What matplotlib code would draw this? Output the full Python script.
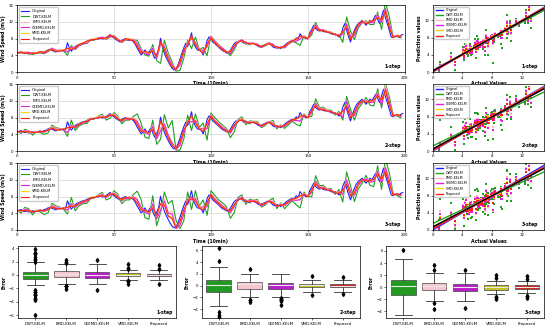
# Wind speed: forecasts, scatter plots and error box plots for 1, 2 and 3 steps ahead
import numpy as np
import matplotlib
matplotlib.use('Agg')
import matplotlib.pyplot as plt

# Measured wind speed (m/s), one value every 10 min
tempo = list(range(200))
original = [4.5, 4.7, 4.9, 4.6, 4.4, 4.5, 4.3, 4.4, 4.6, 4.5,
            4.5, 4.7, 4.8, 4.6, 4.9, 5.0, 5.3, 5.5, 5.2, 5.0,
            4.8, 5.1, 5.0, 5.2, 5.3, 5.1, 7.0, 5.8, 5.0, 5.6,
            6.1, 6.4, 6.6, 6.8, 7.0, 7.1, 7.3, 7.6, 7.8, 7.7,
            7.8, 8.0, 7.9, 8.1, 7.9, 8.0, 8.3, 8.6, 9.0, 8.5,
            8.2, 7.8, 7.5, 7.2, 7.6, 7.8, 8.0, 7.7, 7.9, 7.6,
            7.3, 6.6, 5.7, 4.9, 4.1, 4.6, 5.3, 4.2, 4.8, 5.5,
            4.4, 3.3, 4.2, 5.3, 8.1, 6.0, 4.5, 3.4, 2.5, 1.6,
            0.9, 0.5, 0.8, 1.7, 3.0, 4.5, 5.8, 6.9, 6.1, 7.8,
            9.4, 6.9, 6.0, 5.3, 5.2, 5.0, 4.1, 5.6, 7.5, 8.4,
            8.0, 7.2, 6.8, 6.4, 6.0, 5.5, 5.1, 4.9, 4.6, 4.5,
            5.2, 6.0, 6.8, 7.2, 7.0, 7.6, 7.3, 6.9, 7.2, 6.8,
            6.5, 6.9, 6.8, 6.6, 6.3, 6.0, 6.2, 6.4, 6.6, 6.9,
            6.8, 6.5, 6.0, 5.8, 6.1, 5.9, 5.6, 6.0, 6.4, 6.8,
            7.1, 7.4, 7.6, 7.5, 8.2, 7.8, 9.2, 8.5, 8.3, 8.0,
            8.0, 9.5, 10.2, 11.2, 10.4, 10.0, 9.8, 10.0, 9.7, 9.6,
            9.6, 9.4, 9.2, 9.0, 9.2, 8.8, 8.4, 8.6, 10.5, 11.6,
            10.0, 8.5, 7.2, 8.8, 10.0, 11.0, 11.6, 12.0, 12.4, 11.8,
            11.2, 11.8, 12.4, 12.0, 12.8, 13.6, 12.6, 11.6, 13.2, 14.8,
            13.0, 11.6, 10.0, 8.4, 8.2, 8.6, 8.8, 8.4, 8.8, 9.0]

# Forecast errors (prediction - measured) read for every second time step
# 1-step
erro_dwt_1 = [0.1, -0.3, 0.3, 0.2, -0.4, 0.0, -0.2, -0.5, -0.4, 0.3,
              0.2, 0.1, -0.2, -3.0, 1.4, -0.7, -0.3, -0.3, -0.4, -0.2,
              -0.1, 0.2, 0.3, -0.4, -0.6, 0.3, 0.3, -0.5, -0.3, -0.3,
              0.4, 1.9, 1.5, -1.2, -1.0, 2.2, -1.5, -6.0, 3.1, 2.0,
              1.5, -0.6, -2.6, -2.5, 1.6, -3.8, 2.4, 0.2, 1.8, -3.6,
              0.6, 0.7, 0.6, 0.5, 0.4, -1.3, -1.5, 0.3, 0.4, -0.5,
              0.3, 0.1, 0.3, -0.3, -0.3, 0.1, 0.7, -0.4, 0.3, -0.6,
              -0.4, -0.3, -1.2, -2.8, 0.3, 0.0, -1.3, 1.5, 0.2, 0.4,
              0.0, 0.2, -0.3, 0.6, -3.4, 3.2, 2.6, -2.2, -1.0, -0.6,
              1.1, -1.0, -1.4, 1.8, -3.0, 3.8, 3.3, 0.2, -0.3, -0.6]
erro_emd_1 = [0.2, -0.1, 0.4, 0.5, -0.1, 0.2, 0.0, -0.3, -0.2, 0.6,
              0.5, 0.3, 0.0, -2.1, 1.1, -0.4, -0.1, 0.0, -0.2, 0.1,
              0.1, 0.4, 0.5, -0.2, -0.4, 0.6, 0.5, -0.4, -0.1, 0.0,
              0.6, 1.3, 1.1, -0.7, -0.5, 1.5, -0.9, -1.7, 1.9, 1.2,
              1.0, -0.2, -1.3, -1.1, 1.1, -1.6, 1.3, 0.3, 1.2, -1.7,
              0.6, 0.6, 0.5, 0.7, 0.4, -0.7, -0.8, 0.4, 0.5, -0.2,
              0.5, 0.2, 0.5, -0.2, -0.1, 0.3, 0.7, -0.3, 0.5, -0.4,
              -0.3, -0.1, -0.7, -1.4, 0.4, 0.2, -0.7, 1.0, 0.4, 0.5,
              0.2, 0.4, -0.2, 0.6, -1.6, 1.8, 1.4, -1.1, -0.5, -0.3,
              0.8, -0.5, -0.8, 1.3, -1.4, 2.2, 1.7, 0.3, -0.1, -0.3]
erro_ceemd_1 = [0.1, -0.3, 0.3, 0.4, -0.2, 0.1, -0.1, -0.4, -0.3, 0.5,
                0.4, 0.2, -0.2, -2.2, 1.0, -0.6, -0.3, -0.2, -0.4, -0.1,
                0.0, 0.3, 0.4, -0.4, -0.5, 0.5, 0.4, -0.5, -0.2, -0.3,
                0.5, 1.1, 0.9, -0.8, -0.7, 1.3, -1.0, -1.4, 1.6, 1.0,
                0.8, -0.3, -1.3, -1.2, 0.9, -1.4, 1.1, 0.2, 1.0, -1.4,
                0.5, 0.5, 0.4, 0.6, 0.3, -0.8, -0.9, 0.3, 0.4, -0.3,
                0.4, 0.1, 0.4, -0.3, -0.2, 0.2, 0.6, -0.4, 0.4, -0.5,
                -0.4, -0.2, -0.8, -1.3, 0.3, 0.0, -0.8, 0.9, 0.3, 0.4,
                0.1, 0.3, -0.3, 0.5, -1.4, 1.5, 1.2, -1.2, -0.6, -0.5,
                0.7, -0.6, -0.9, 1.1, -1.3, 2.2, 1.4, 0.2, -0.2, -0.4]
erro_vmd_1 = [0.0, -0.1, 0.2, 0.1, -0.1, 0.1, 0.0, -0.1, -0.2, 0.3,
              0.2, 0.1, 0.0, -1.3, 0.5, -0.2, -0.1, 0.0, -0.1, 0.0,
              0.1, 0.2, 0.1, -0.2, -0.1, 0.3, 0.2, -0.2, -0.1, 0.0,
              0.3, 0.6, 0.5, -0.4, -0.3, 0.7, -0.5, -0.9, 1.0, 0.5,
              0.4, -0.1, -0.7, -0.6, 0.5, -0.8, 0.6, 0.2, 0.5, -0.9,
              0.3, 0.2, 0.3, 0.2, 0.2, -0.3, -0.4, 0.2, 0.1, -0.1,
              0.1, 0.1, 0.2, -0.1, 0.0, 0.1, 0.3, -0.1, 0.2, -0.2,
              -0.2, 0.0, -0.3, -0.7, 0.2, 0.1, -0.3, 0.5, 0.0, 0.3,
              0.1, 0.2, -0.1, 0.3, -0.9, 0.9, 0.7, -0.6, -0.3, -0.1,
              0.4, -0.2, -0.5, 0.5, -0.8, 1.6, 0.8, 0.1, 0.0, -0.2]
erro_prop_1 = [0.1, -0.1, 0.1, 0.2, -0.1, 0.0, 0.1, -0.2, -0.1, 0.2,
               0.1, 0.0, -0.1, -1.3, 0.4, -0.2, 0.0, -0.1, 0.1, -0.1,
               0.0, 0.1, 0.2, -0.1, -0.2, 0.2, 0.1, -0.2, 0.0, -0.1,
               0.2, 0.5, 0.4, -0.3, -0.2, 0.6, -0.4, -0.8, 0.9, 0.4,
               0.3, -0.1, -0.6, -0.5, 0.4, -0.7, 0.5, 0.1, 0.4, -0.8,
               0.2, 0.2, 0.1, 0.3, 0.1, -0.3, -0.4, 0.1, 0.2, -0.1,
               0.2, 0.0, 0.1, -0.1, -0.1, 0.0, 0.3, -0.1, 0.2, -0.2,
               -0.1, -0.1, -0.3, -0.6, 0.1, 0.0, -0.3, 0.4, 0.1, 0.2,
               0.0, 0.1, -0.1, 0.2, -0.8, 0.8, 0.6, -0.5, -0.2, -0.2,
               0.3, -0.3, -0.4, 0.4, -0.7, 1.5, 0.7, 0.1, -0.1, -0.2]

# 2-step
erro_dwt_2 = [0.3, -0.7, 0.8, 0.6, -0.8, 0.1, -0.4, -0.9, -1.0, 1.0,
              0.8, 0.4, -0.3, -3.5, 2.4, -1.2, -0.6, -0.5, -0.7, -0.2,
              -0.1, 0.5, 0.9, -0.9, -1.1, 1.0, 0.9, -1.1, -0.6, -0.5,
              1.0, 3.2, 2.6, -2.0, -1.8, 3.0, -2.6, -5.3, 4.2, 3.0,
              6.4, -0.6, -2.8, -3.0, 2.5, -4.5, 2.9, 0.5, 2.6, -4.9,
              1.1, 1.2, 1.0, 1.1, 0.8, -2.0, -2.2, 0.6, 0.9, -0.9,
              0.7, 0.3, 0.8, -0.6, -0.5, 0.2, 1.3, -0.8, 0.7, -1.0,
              -0.8, -0.5, -1.8, -3.2, 0.6, 0.1, -1.9, 2.1, 0.6, 0.8,
              0.2, 0.6, -0.6, 1.1, -3.1, 3.1, 2.8, -2.6, -1.5, -1.0,
              1.6, -1.4, -2.0, 2.3, -2.9, 3.2, 3.0, 0.4, -0.4, -0.9]
erro_emd_2 = [0.2, -0.3, 0.5, 0.6, -0.2, 0.2, -0.1, -0.4, -0.4, 0.7,
              0.6, 0.3, -0.1, -2.8, 1.3, -0.6, -0.2, -0.2, -0.3, 0.0,
              0.1, 0.4, 0.6, -0.4, -0.6, 0.7, 0.6, -0.5, -0.2, -0.2,
              0.7, 1.6, 1.4, -1.0, -0.8, 1.8, -1.3, -2.5, 2.0, 1.4,
              1.2, -0.4, -1.9, -1.7, 1.3, -2.5, 1.5, 0.3, 1.4, -2.0,
              0.7, 0.7, 0.6, 0.8, 0.5, -1.0, -1.1, 0.4, 0.6, -0.4,
              0.5, 0.2, 0.6, -0.3, -0.2, 0.3, 0.8, -0.4, 0.6, -0.5,
              -0.4, -0.2, -1.0, -2.0, 0.4, 0.2, -1.0, 1.2, 0.4, 0.6,
              0.2, 0.4, -0.3, 0.7, -2.0, 2.0, 1.7, -1.6, -0.8, -0.5,
              1.0, -0.8, -1.1, 1.5, -1.9, 2.8, 2.0, 0.3, -0.2, -0.5]
erro_ceemd_2 = [0.1, -0.3, 0.4, 0.4, -0.3, 0.1, -0.2, -0.4, -0.3, 0.5,
                0.4, 0.2, -0.2, -2.6, 1.1, -0.6, -0.3, -0.3, -0.3, -0.2,
                0.0, 0.2, 0.4, -0.4, -0.5, 0.5, 0.4, -0.5, -0.3, -0.3,
                0.5, 1.3, 1.1, -0.9, -0.8, 1.5, -1.3, -3.3, 2.0, 1.2,
                1.0, -0.4, -1.6, -1.5, 1.1, -2.4, 1.3, 0.2, 1.2, -2.2,
                0.5, 0.5, 0.5, 0.5, 0.4, -0.9, -1.0, 0.3, 0.4, -0.4,
                0.4, 0.1, 0.4, -0.3, -0.3, 0.2, 0.6, -0.4, 0.4, -0.5,
                -0.4, -0.3, -0.9, -2.0, 0.3, 0.0, -0.9, 1.0, 0.3, 0.4,
                0.1, 0.3, -0.3, 0.6, -2.5, 1.9, 1.6, -1.5, -0.8, -0.5,
                0.8, -0.8, -1.1, 1.3, -2.1, 1.9, 1.8, 0.2, -0.2, -0.5]
erro_vmd_2 = [0.0, -0.2, 0.3, 0.2, -0.2, 0.1, -0.1, -0.3, -0.2, 0.4,
              0.3, 0.1, -0.1, -1.5, 0.7, -0.3, -0.1, -0.2, -0.1, 0.0,
              0.1, 0.2, 0.3, -0.3, -0.2, 0.4, 0.3, -0.3, -0.2, -0.1,
              0.4, 0.8, 0.7, -0.6, -0.5, 0.9, -0.8, -1.0, 1.0, 0.7,
              0.6, -0.2, -1.0, -0.9, 0.7, -1.0, 0.8, 0.2, 0.7, -1.0,
              0.3, 0.4, 0.3, 0.3, 0.2, -0.5, -0.6, 0.2, 0.3, -0.2,
              0.2, 0.1, 0.3, -0.2, -0.2, 0.1, 0.4, -0.2, 0.3, -0.3,
              -0.3, -0.1, -0.6, -1.0, 0.3, 0.1, -0.5, 0.6, 0.2, 0.3,
              0.1, 0.2, -0.2, 0.4, -1.0, 1.0, 0.9, -0.9, -0.5, -0.3,
              0.5, -0.5, -0.7, 0.8, -1.0, 1.6, 1.0, 0.2, -0.1, -0.3]
erro_prop_2 = [0.1, -0.2, 0.2, 0.3, -0.1, 0.0, -0.1, -0.2, -0.3, 0.3,
               0.2, 0.1, -0.1, -1.4, 0.6, -0.3, -0.2, -0.1, -0.2, -0.1,
               0.0, 0.1, 0.2, -0.2, -0.3, 0.3, 0.2, -0.3, -0.1, -0.2,
               0.3, 0.7, 0.6, -0.5, -0.4, 0.8, -0.7, -1.0, 1.0, 0.6,
               0.5, -0.2, -0.9, -0.8, 0.6, -1.0, 0.7, 0.1, 0.6, -1.0,
               0.3, 0.3, 0.2, 0.3, 0.2, -0.5, -0.6, 0.1, 0.2, -0.2,
               0.2, 0.1, 0.2, -0.2, -0.1, 0.1, 0.3, -0.2, 0.2, -0.3,
               -0.2, -0.1, -0.5, -0.9, 0.2, 0.0, -0.5, 0.5, 0.1, 0.2,
               0.0, 0.2, -0.2, 0.3, -1.0, 0.8, 0.8, -0.8, -0.4, -0.3,
               0.4, -0.4, -0.6, 0.7, -1.0, 1.5, 0.9, 0.2, -0.1, -0.3]

# 3-step
erro_dwt_3 = [0.4, -0.9, 1.0, 0.8, -1.0, 0.2, -0.5, -1.2, -1.2, 1.2,
              1.0, 0.5, -0.4, -3.2, 2.8, -1.5, -0.8, -0.7, -0.9, -0.3,
              -0.1, 0.6, 1.1, -1.1, -1.4, 1.2, 1.1, -1.3, -0.8, -0.7,
              1.2, 3.6, 3.2, -2.4, -2.2, 3.8, -3.2, -4.0, 4.6, 3.8,
              6.2, 1.5, -2.7, -3.6, 3.0, -4.5, 3.4, 0.6, 3.1, -4.0,
              1.4, 1.5, 1.2, 1.4, 1.0, -2.4, -2.7, 0.8, 1.1, -1.1,
              0.9, 0.3, 1.0, -0.7, -0.6, 0.2, 1.6, -1.0, 0.9, -1.3,
              -1.0, -0.6, -2.2, -3.9, 0.8, 0.1, -2.3, 2.6, 0.8, 1.0,
              0.2, 0.7, -0.7, 1.3, -3.8, 3.9, 3.4, -3.2, -1.8, -1.2,
              1.9, -1.7, -2.4, 2.8, -3.5, 4.0, 3.7, 0.5, -0.5, -1.1]
erro_emd_3 = [0.2, -0.3, 0.6, 0.6, -0.3, 0.2, -0.1, -0.4, -0.4, 0.8,
              0.7, 0.4, -0.1, -2.6, 1.5, -0.6, -0.2, -0.2, -0.3, 0.0,
              0.1, 0.5, 0.7, -0.4, -0.6, 0.8, 0.7, -0.5, -0.2, -0.2,
              0.8, 1.9, 1.6, -1.1, -0.9, 2.2, -1.5, -3.6, 2.9, 1.7,
              3.6, -0.4, -2.2, -2.0, 1.6, -2.2, 1.8, 0.4, 1.7, -2.1,
              0.8, 0.8, 0.7, 0.9, 0.6, -1.1, -1.2, 0.5, 0.7, -0.4,
              0.6, 0.3, 0.7, -0.3, -0.2, 0.3, 0.9, -0.4, 0.7, -0.5,
              -0.4, -0.2, -1.1, -2.1, 0.5, 0.3, -1.1, 1.4, 0.5, 0.7,
              0.2, 0.5, -0.3, 0.8, -2.2, 2.4, 2.0, -1.8, -0.9, -0.5,
              1.2, -0.9, -1.2, 1.8, -2.1, 2.4, 2.3, 0.4, -0.2, -0.5]
erro_ceemd_3 = [0.1, -0.4, 0.5, 0.5, -0.4, 0.1, -0.2, -0.5, -0.5, 0.6,
                0.5, 0.2, -0.3, -2.2, 1.2, -0.7, -0.4, -0.4, -0.5, -0.2,
                0.0, 0.3, 0.5, -0.5, -0.6, 0.6, 0.5, -0.6, -0.4, -0.4,
                0.6, 1.5, 1.3, -1.1, -1.0, 1.8, -1.5, -3.4, 2.4, 1.5,
                2.9, -0.5, -1.9, -1.9, 1.3, -2.2, 1.5, 0.2, 1.4, -1.9,
                0.6, 0.6, 0.6, 0.6, 0.5, -1.1, -1.2, 0.4, 0.5, -0.5,
                0.5, 0.2, 0.5, -0.4, -0.4, 0.2, 0.7, -0.5, 0.5, -0.6,
                -0.5, -0.4, -1.1, -1.9, 0.4, 0.0, -1.1, 1.2, 0.4, 0.5,
                0.1, 0.4, -0.4, 0.7, -1.9, 1.9, 1.9, -1.7, -0.9, -0.6,
                1.0, -0.9, -1.2, 1.5, -1.9, 1.9, 1.9, 0.3, -0.3, -0.6]
erro_vmd_3 = [0.0, -0.3, 0.3, 0.3, -0.2, 0.1, -0.1, -0.4, -0.3, 0.4,
              0.3, 0.1, -0.2, -1.6, 0.8, -0.4, -0.2, -0.2, -0.3, 0.0,
              0.1, 0.2, 0.3, -0.3, -0.4, 0.4, 0.3, -0.4, -0.2, -0.2,
              0.4, 0.9, 0.8, -0.7, -0.6, 1.0, -0.9, -1.9, 1.6, 0.9,
              2.0, -0.3, -1.1, -1.1, 0.8, -1.6, 0.9, 0.2, 0.8, -1.1,
              0.4, 0.4, 0.3, 0.4, 0.3, -0.6, -0.8, 0.2, 0.3, -0.3,
              0.3, 0.1, 0.3, -0.2, -0.2, 0.1, 0.5, -0.3, 0.3, -0.4,
              -0.3, -0.2, -0.7, -1.1, 0.3, 0.1, -0.7, 0.8, 0.2, 0.3,
              0.1, 0.2, -0.2, 0.4, -1.1, 1.1, 1.1, -1.1, -0.6, -0.3,
              0.6, -0.5, -0.8, 0.9, -1.1, 1.1, 1.1, 0.2, -0.2, -0.4]
erro_prop_3 = [0.1, -0.2, 0.2, 0.3, -0.2, 0.0, -0.1, -0.3, -0.3, 0.3,
               0.3, 0.1, -0.1, -1.5, 0.7, -0.4, -0.2, -0.2, -0.2, -0.1,
               0.0, 0.2, 0.3, -0.3, -0.3, 0.3, 0.3, -0.3, -0.2, -0.2,
               0.3, 0.8, 0.7, -0.6, -0.5, 0.9, -0.8, -1.8, 1.4, 0.8,
               1.8, -0.3, -1.0, -1.0, 0.7, -1.5, 0.8, 0.1, 0.7, -1.0,
               0.4, 0.3, 0.3, 0.3, 0.2, -0.6, -0.7, 0.2, 0.3, -0.3,
               0.2, 0.1, 0.3, -0.2, -0.2, 0.1, 0.4, -0.3, 0.3, -0.3,
               -0.3, -0.2, -0.6, -1.0, 0.2, 0.0, -0.6, 0.7, 0.2, 0.3,
               0.0, 0.2, -0.2, 0.3, -1.0, 1.0, 1.0, -1.0, -0.5, -0.3,
               0.5, -0.5, -0.7, 0.8, -1.0, 1.0, 1.0, 0.2, -0.2, -0.3]

modelos = ['DWT-KELM', 'EMD-KELM', 'CEEMD-KELM', 'VMD-KELM', 'Proposed']
passos = ['1-step', '2-step', '3-step']
erros = [[erro_dwt_1, erro_emd_1, erro_ceemd_1, erro_vmd_1, erro_prop_1],
         [erro_dwt_2, erro_emd_2, erro_ceemd_2, erro_vmd_2, erro_prop_2],
         [erro_dwt_3, erro_emd_3, erro_ceemd_3, erro_vmd_3, erro_prop_3]]

cores_linha = ['#1fa01f', '#ffb6c1', '#e01ee0', '#ffd700', '#ff1a1a']
cores_caixa = ['#229a22', '#f8c6d0', '#b81cc8', '#c4c41c', '#cc2020']

tempo_prev = np.array(tempo[::2])
real = np.array(original)[::2]

fig = plt.figure(figsize=(5.5, 3.29), dpi=100)

linhas_y = [0.781, 0.541, 0.301]
altura = 0.203
fonte_tick = 2.8
fonte_rot = 3.3


def estilo(ax):
    ax.tick_params(labelsize=fonte_tick, length=1.5, width=0.4, pad=1)
    for s in ax.spines.values():
        s.set_linewidth(0.5)


for k in range(3):
    prev = [real + np.array(e) for e in erros[k]]

    # serie temporal
    ax = fig.add_axes([0.031, linhas_y[k], 0.705, altura])
    ax.plot(tempo, original, color='#2020ff', lw=0.8, label='Original')
    for m in range(5):
        ax.plot(tempo_prev, prev[m], color=cores_linha[m], lw=0.8, label=modelos[m])
    ax.set_xlim(0, 200)
    ax.set_ylim(0, 16)
    ax.set_xticks([0, 50, 100, 150, 200])
    ax.set_yticks([0, 4, 8, 12, 16])
    ax.grid(True, color='#d4d4d4', lw=0.5)
    ax.set_axisbelow(True)
    ax.set_xlabel('Time (10min)', fontsize=fonte_rot, fontweight='bold', labelpad=1)
    ax.set_ylabel('Wind Speed (m/s)', fontsize=fonte_rot, fontweight='bold', labelpad=2)
    ax.text(0.99, 0.05, passos[k], transform=ax.transAxes, ha='right', va='bottom',
            fontsize=fonte_rot, fontweight='bold')
    ax.legend(loc='upper left', fontsize=2.6, frameon=True, handlelength=2.4,
              borderpad=0.5, labelspacing=0.45, framealpha=1, edgecolor='#cccccc')
    estilo(ax)

    # dispersao
    ax = fig.add_axes([0.787, linhas_y[k], 0.202, altura])
    for m in range(5):
        ax.scatter(real, prev[m], s=2.5, marker='s', color=cores_linha[m], linewidths=0)
    xs = np.array([0, 15])
    a, b = np.polyfit(real, real, 1)
    ax.plot(xs, a * xs + b, color='#2020ff', lw=1, label='Original')
    for m in range(5):
        a, b = np.polyfit(real, prev[m], 1)
        ax.plot(xs, a * xs + b, color=cores_linha[m], lw=1, label=modelos[m])
    todos_x = np.concatenate([real] * 5)
    todos_y = np.concatenate(prev)
    a, b = np.polyfit(todos_x, todos_y, 1)
    ax.plot(xs, a * xs + b, color='black', lw=1)
    ax.set_xlim(0, 15)
    ax.set_ylim(0, 15.5)
    ax.set_xticks([0, 4, 8, 12])
    ax.set_yticks([0, 4, 8, 12])
    ax.set_xlabel('Actual Values', fontsize=fonte_rot, fontweight='bold', labelpad=1)
    ax.set_ylabel('Prediction values', fontsize=fonte_rot, fontweight='bold', labelpad=2)
    ax.text(0.95, 0.05, passos[k], transform=ax.transAxes, ha='right', va='bottom',
            fontsize=fonte_rot, fontweight='bold')
    ax.legend(loc='upper left', fontsize=2.3, frameon=True, handlelength=2.4,
              borderpad=0.4, labelspacing=0.35, framealpha=1, edgecolor='#cccccc')
    estilo(ax)

# box plots dos erros
posicoes_x = [0.033, 0.367, 0.702]
limites = [(-6.45, 4.3), (-5.5, 6.7), (-5.1, 6.8)]
for k in range(3):
    ax = fig.add_axes([posicoes_x[k], 0.033, 0.287, 0.219])
    bp = ax.boxplot(erros[k], widths=0.8, capwidths=0.55, patch_artist=True,
                    medianprops=dict(color='#e8e8e8', lw=0.8),
                    boxprops=dict(edgecolor='#444444', lw=0.5),
                    whiskerprops=dict(color='#333333', lw=0.6),
                    capprops=dict(color='#333333', lw=0.6),
                    flierprops=dict(marker='d', markersize=2, markerfacecolor='black',
                                    markeredgecolor='black'))
    for caixa, cor in zip(bp['boxes'], cores_caixa):
        caixa.set_facecolor(cor)
    ax.set_xticks([1, 2, 3, 4, 5])
    ax.set_xticklabels(modelos)
    ax.set_xlim(0.45, 5.55)
    ax.set_ylim(*limites[k])
    ax.set_ylabel('Error', fontsize=fonte_rot, fontweight='bold', labelpad=2)
    ax.text(0.98, 0.05, passos[k], transform=ax.transAxes, ha='right', va='bottom',
            fontsize=fonte_rot, fontweight='bold')
    estilo(ax)

fig.savefig('out.png', dpi=100)
